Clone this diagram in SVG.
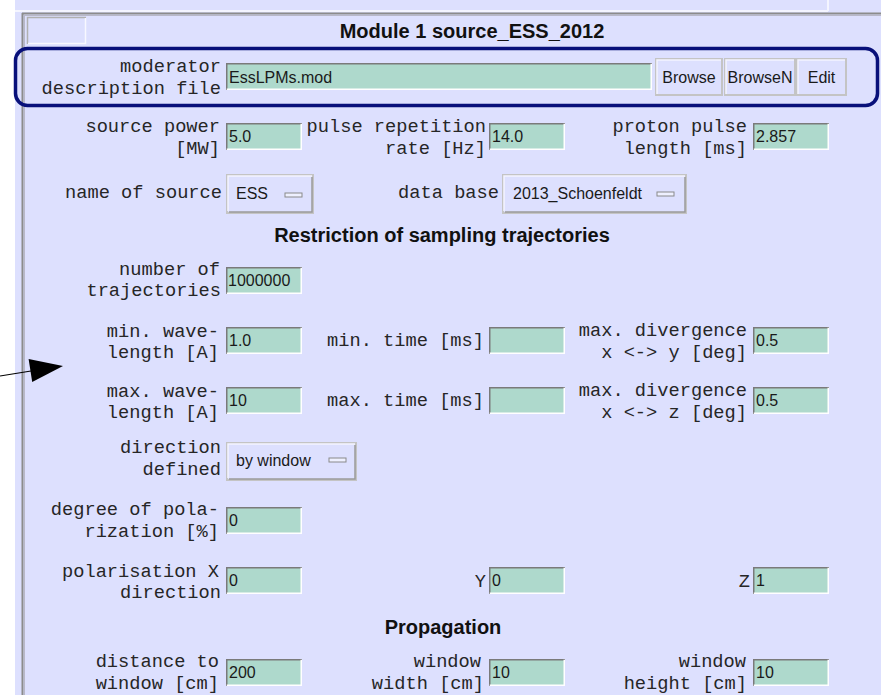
<svg xmlns="http://www.w3.org/2000/svg" width="881" height="695" viewBox="0 0 881 695">
  <style>
    .lbl { font-family: "Liberation Mono", "DejaVu Sans Mono", monospace; font-size: 18.7px; fill: #262626; text-anchor: end; }
    .val { font-family: "Liberation Sans", Arial, sans-serif; font-size: 16px; fill: #1a1a1a; }
    .btn { font-family: "Liberation Sans", Arial, sans-serif; font-size: 16px; fill: #1a1a1a; text-anchor: middle; }
    .head { font-family: "Liberation Sans", Arial, sans-serif; font-size: 20px; font-weight: bold; fill: #111; text-anchor: middle; }
    .field { fill: #aed9cc; }
    .sunk-dark { stroke: #7a7a7a; stroke-width: 1.5; fill: none; }
    .sunk-light { stroke: #ffffff; stroke-width: 1.5; fill: none; }
    .face { fill: #dde0fe; stroke: #c4c4c4; stroke-width: 2; }
    .raise-dark { stroke: #9a9a9a; stroke-width: 1.5; fill: none; }
    .raise-light { stroke: #f4f4ff; stroke-width: 1.5; fill: none; }
    .ind { fill: #eef0ff; stroke: #8a8a8a; stroke-width: 1; }
  </style>

  <defs>
    <!-- sunken entry field, 76 x 27 -->
    <g id="entry">
      <rect class="field" x="0" y="0" width="76" height="27"/>
      <polyline class="sunk-dark" points="0.75,27 0.75,0.75 76,0.75"/>
      <polyline class="sunk-light" points="0.75,26.25 75.25,26.25 75.25,0.75"/>
    </g>
  </defs>

  <!-- window background -->
  <rect x="0" y="0" width="881" height="695" fill="#ffffff"/>
  <rect x="15" y="0" width="866" height="695" fill="#dde0fe"/>
  <rect x="15" y="10" width="813" height="2" fill="#f4f5ff"/>
  <rect x="827" y="0" width="2" height="11" fill="#f4f5ff"/>
  <!-- sunken frame of the module panel -->
  <line x1="22" y1="13.5" x2="881" y2="13.5" stroke="#8c8c8c" stroke-width="2"/>
  <line x1="22.5" y1="13" x2="22.5" y2="695" stroke="#8c8c8c" stroke-width="2"/>
  <line x1="24.5" y1="15" x2="24.5" y2="695" stroke="#b8b8c8" stroke-width="1"/>
  <line x1="24" y1="15.5" x2="881" y2="15.5" stroke="#b8b8c8" stroke-width="1"/>

  <!-- empty corner box -->
  <g id="corner-box">
    <rect x="27" y="17" width="59" height="27" fill="#dde0fe"/>
    <polyline points="27.5,44 27.5,17.5 86,17.5" stroke="#b0b0b0" stroke-width="1.5" fill="none"/>
    <polyline points="28,43.5 85.5,43.5 85.5,18" stroke="#f8f8ff" stroke-width="1.5" fill="none"/>
  </g>

  <g id="title">
    <text class="head" x="472" y="38">Module 1 source_ESS_2012</text>
  </g>

  <!-- moderator file row, highlighted -->
  <g id="moderator">
    <text class="lbl" x="221" y="72">moderator</text>
    <text class="lbl" x="221" y="94">description file</text>
    <rect class="field" x="226" y="63" width="426" height="27"/>
    <polyline class="sunk-dark" points="226.75,90 226.75,63.75 652,63.75"/>
    <polyline class="sunk-light" points="226.75,89.25 651.25,89.25 651.25,63.75"/>
    <text class="val" x="229" y="83">EssLPMs.mod</text>
  </g>
  <g id="btn-browse">
    <rect class="face" x="656" y="59" width="66" height="36"/>
    <polyline class="raise-light" points="657,94 657,60 721,60"/>
    <text class="btn" x="689" y="83">Browse</text>
  </g>
  <g id="btn-browsen">
    <rect class="face" x="725" y="59" width="70" height="36"/>
    <polyline class="raise-light" points="726,94 726,60 794,60"/>
    <text class="btn" x="760" y="83">BrowseN</text>
  </g>
  <g id="btn-edit">
    <rect class="face" x="797" y="59" width="49" height="36"/>
    <polyline class="raise-light" points="798,94 798,60 845,60"/>
    <text class="btn" x="821.5" y="83">Edit</text>
  </g>
  <g id="highlight-frame">
    <rect x="15.5" y="48.5" width="862" height="57" rx="12" ry="12" fill="none" stroke="#08107a" stroke-width="3.5"/>
  </g>

  <!-- source parameters -->
  <g id="source-power">
    <text class="lbl" x="220" y="132">source power</text>
    <text class="lbl" x="220" y="154">[MW]</text>
    <use href="#entry" x="226" y="123"/>
    <text class="val" x="229" y="142">5.0</text>
  </g>
  <g id="pulse-rate">
    <text class="lbl" x="486" y="132">pulse repetition</text>
    <text class="lbl" x="486" y="154">rate [Hz]</text>
    <use href="#entry" x="489" y="123"/>
    <text class="val" x="492" y="142">14.0</text>
  </g>
  <g id="pulse-length">
    <text class="lbl" x="747" y="132">proton pulse</text>
    <text class="lbl" x="747" y="154">length [ms]</text>
    <use href="#entry" x="753" y="123"/>
    <text class="val" x="756" y="142">2.857</text>
  </g>

  <g id="source-name">
    <text class="lbl" x="222" y="198">name of source</text>
    <rect class="face" x="227" y="175" width="86" height="38"/>
    <polyline class="raise-light" points="228,211 228,176 312,176"/>
    <polyline class="raise-dark" points="229,212 312,212 312,177"/>
    <text class="val" x="236" y="199">ESS</text>
    <rect class="ind" x="285" y="193" width="17" height="4"/>
  </g>
  <g id="data-base">
    <text class="lbl" x="499" y="198">data base</text>
    <rect class="face" x="503" y="175" width="183" height="38"/>
    <polyline class="raise-light" points="504,211 504,176 685,176"/>
    <polyline class="raise-dark" points="505,212 685,212 685,177"/>
    <text class="val" x="513" y="199">2013_Schoenfeldt</text>
    <rect class="ind" x="657" y="192" width="17" height="4"/>
  </g>

  <g id="heading-restriction">
    <text class="head" x="442" y="242">Restriction of sampling trajectories</text>
  </g>

  <g id="trajectories">
    <text class="lbl" x="220" y="275">number of</text>
    <text class="lbl" x="221" y="296">trajectories</text>
    <use href="#entry" x="226" y="267"/>
    <text class="val" x="228" y="286">1000000</text>
  </g>

  <g id="min-wavelength">
    <text class="lbl" x="219" y="337">min. wave-</text>
    <text class="lbl" x="219" y="358">length [A]</text>
    <use href="#entry" x="226" y="327"/>
    <text class="val" x="229" y="346">1.0</text>
  </g>
  <g id="min-time">
    <text class="lbl" x="484" y="346">min. time [ms]</text>
    <use href="#entry" x="489" y="327"/>
  </g>
  <g id="div-xy">
    <text class="lbl" x="747" y="336">max. divergence</text>
    <text class="lbl" x="747" y="358">x &lt;-&gt; y [deg]</text>
    <use href="#entry" x="753" y="327"/>
    <text class="val" x="756" y="346">0.5</text>
  </g>

  <g id="max-wavelength">
    <text class="lbl" x="219" y="397">max. wave-</text>
    <text class="lbl" x="219" y="418">length [A]</text>
    <use href="#entry" x="226" y="387"/>
    <text class="val" x="229" y="406">10</text>
  </g>
  <g id="max-time">
    <text class="lbl" x="484" y="406">max. time [ms]</text>
    <use href="#entry" x="489" y="387"/>
  </g>
  <g id="div-xz">
    <text class="lbl" x="747" y="396">max. divergence</text>
    <text class="lbl" x="747" y="418">x &lt;-&gt; z [deg]</text>
    <use href="#entry" x="753" y="387"/>
    <text class="val" x="756" y="406">0.5</text>
  </g>

  <g id="direction">
    <text class="lbl" x="221" y="453">direction</text>
    <text class="lbl" x="221" y="475">defined</text>
    <rect class="face" x="227" y="443" width="129" height="37"/>
    <polyline class="raise-light" points="228,478 228,444 355,444"/>
    <polyline class="raise-dark" points="229,479 355,479 355,445"/>
    <text class="val" x="236" y="466">by window</text>
    <rect class="ind" x="329" y="458" width="17" height="4"/>
  </g>

  <g id="polarization-degree">
    <text class="lbl" x="219" y="515">degree of pola-</text>
    <text class="lbl" x="219" y="537">rization [%]</text>
    <use href="#entry" x="226" y="507"/>
    <text class="val" x="229" y="526">0</text>
  </g>

  <g id="polarization-x">
    <text class="lbl" x="219" y="577">polarisation X</text>
    <text class="lbl" x="221" y="598">direction</text>
    <use href="#entry" x="226" y="567"/>
    <text class="val" x="229" y="586">0</text>
  </g>
  <g id="polarization-y">
    <text class="lbl" x="486" y="587">Y</text>
    <use href="#entry" x="489" y="567"/>
    <text class="val" x="492" y="586">0</text>
  </g>
  <g id="polarization-z">
    <text class="lbl" x="750" y="587">Z</text>
    <use href="#entry" x="753" y="567"/>
    <text class="val" x="756" y="586">1</text>
  </g>

  <g id="heading-propagation">
    <text class="head" x="443" y="634">Propagation</text>
  </g>

  <g id="window-distance">
    <text class="lbl" x="219" y="667">distance to</text>
    <text class="lbl" x="219" y="689">window [cm]</text>
    <use href="#entry" x="226" y="659"/>
    <text class="val" x="229" y="678">200</text>
  </g>
  <g id="window-width">
    <text class="lbl" x="481" y="667">window</text>
    <text class="lbl" x="484" y="689">width [cm]</text>
    <use href="#entry" x="489" y="659"/>
    <text class="val" x="492" y="678">10</text>
  </g>
  <g id="window-height">
    <text class="lbl" x="746" y="667">window</text>
    <text class="lbl" x="747" y="689">height [cm]</text>
    <use href="#entry" x="753" y="659"/>
    <text class="val" x="756" y="678">10</text>
  </g>

  <!-- pointer arrow -->
  <g id="connectors">
    <line x1="0" y1="376" x2="31" y2="371" stroke="#000" stroke-width="1.2"/>
    <polygon points="63,366 28.6,359 32.2,382" fill="#000"/>
  </g>
</svg>
